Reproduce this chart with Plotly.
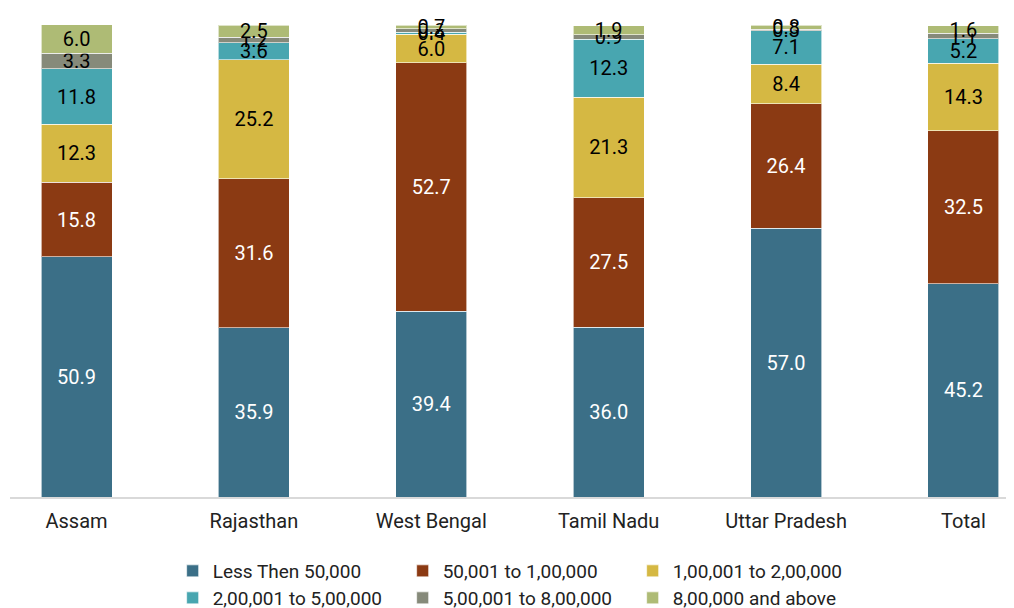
import plotly.graph_objects as go

categories = ["Assam", "Rajasthan", "West Bengal", "Tamil Nadu", "Uttar Pradesh", "Total"]
series_names = ["Less Then 50,000", "50,001 to 1,00,000", "1,00,001 to 2,00,000",
                "2,00,001 to 5,00,000", "5,00,001 to 8,00,000", "8,00,000 and above"]
less_50k = [50.9, 35.9, 39.4, 36.0, 57.0, 45.2]
from_50k_1l = [15.8, 31.6, 52.7, 27.5, 26.4, 32.5]
from_1l_2l = [12.3, 25.2, 6.0, 21.3, 8.4, 14.3]
from_2l_5l = [11.8, 3.6, 0.4, 12.3, 7.1, 5.2]
from_5l_8l = [3.3, 1.2, 0.8, 0.9, 0.3, 1.1]
above_8l = [6.0, 2.5, 0.7, 1.9, 0.8, 1.6]

all_values = [less_50k, from_50k_1l, from_1l_2l, from_2l_5l, from_5l_8l, above_8l]
colors = ["#3B6F87", "#8B3A13", "#D5B843", "#48A6B0", "#868A7A", "#AEBB75"]
text_colors = ["white", "white", "black", "black", "black", "black"]
legend_ids = ["legend", "legend", "legend", "legend2", "legend2", "legend2"]

FONT = "Liberation Sans Narrow, Arial Narrow, Roboto, sans-serif"

fig = go.Figure()
for name, vals, col, tcol, lg in zip(series_names, all_values, colors, text_colors, legend_ids):
    fig.add_trace(go.Bar(
        x=categories, y=vals, name=name, legend=lg,
        marker=dict(color=col, line=dict(color="rgba(255,255,255,0.6)", width=1)),
        width=0.4,
        text=[f"{v:.1f}" for v in vals],
        textposition="inside", insidetextanchor="middle",
        textfont=dict(color=tcol, size=20, family=FONT),
        cliponaxis=False,
    ))

legend_common = dict(orientation="h", x=0.162, xanchor="left", yanchor="top",
                     yref="container",
                     entrywidth=185, entrywidthmode="pixels", traceorder="normal",
                     bgcolor="rgba(0,0,0,0)",
                     font=dict(size=19, family=FONT, color="#222222"))

fig.update_layout(
    barmode="stack",
    width=1006, height=600,
    margin=dict(l=2, r=0, t=16, b=111),
    plot_bgcolor="white", paper_bgcolor="white",
    font=dict(family=FONT, size=20, color="#222222"),
    uniformtext=dict(minsize=20, mode="show"),
    xaxis=dict(range=[-0.375, 5.285], showline=True, linecolor="#D9D9D9", linewidth=2,
               ticks="", ticklabelstandoff=5,
               tickfont=dict(size=20, family=FONT, color="#222222")),
    yaxis=dict(range=[0, 100.3], visible=False, showgrid=False),
    legend=dict(y=0.0933, **legend_common),
    legend2=dict(y=0.0483, **legend_common),
)

fig.write_html("out.html")
